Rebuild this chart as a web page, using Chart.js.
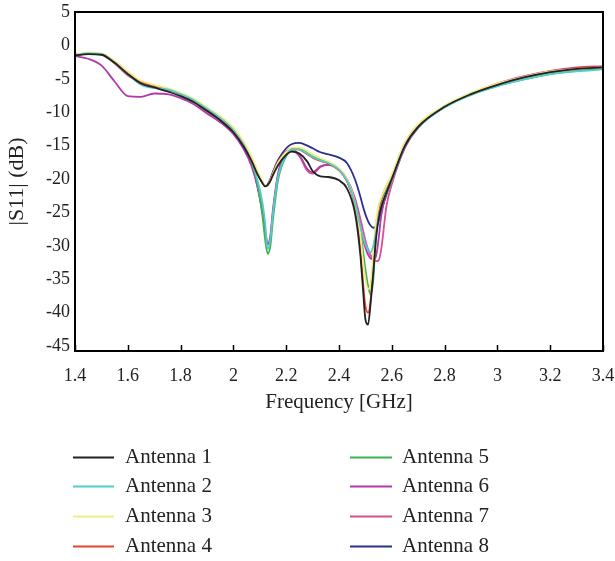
<!DOCTYPE html>
<html>
<head>
<meta charset="utf-8">
<script src="https://cdn.jsdelivr.net/npm/chart.js@4/dist/chart.umd.min.js"></script>
<style>
  html, body { margin: 0; padding: 0; background: #fff; }
  #wrap { width: 615px; height: 561px; position: relative; }
</style>
</head>
<body>
<div id="wrap"><canvas id="c" width="615" height="561"></canvas></div>
<script>
// Frequency grid (GHz) shared by all measured reflection curves
const FREQ = [1.40, 1.45, 1.50, 1.55, 1.60, 1.65, 1.70, 1.75, 1.80, 1.85, 1.90, 1.95, 2.00, 2.04, 2.07, 2.09,
  2.11, 2.12, 2.13, 2.14, 2.15, 2.17, 2.20, 2.22, 2.25, 2.28, 2.30, 2.33, 2.36, 2.40, 2.43, 2.46, 2.48, 2.49,
  2.50, 2.51, 2.52, 2.53, 2.54, 2.55, 2.56, 2.58, 2.60, 2.65, 2.70, 2.80, 2.90, 3.00, 3.10, 3.20, 3.30, 3.40];

// |S11| in dB for each antenna
const ANT1 = [-1.5, -1.3, -1.4, -2.6, -4.3, -5.7, -6.3, -6.9, -7.6, -8.5, -9.8, -11.2, -13.0, -15.2, -17.4, -19.2,
  -20.6, -21.1, -20.9, -20.3, -19.4, -17.9, -16.4, -15.9, -16.2, -17.4, -18.8, -19.6, -19.7, -20.2, -21.4, -25.0, -31.0, -36.0,
  -41.0, -41.8, -38.5, -34.0, -29.0, -26.0, -24.2, -22.0, -20.0, -15.0, -12.2, -9.2, -7.3, -5.9, -4.8, -4.0, -3.5, -3.3];
const ANT2 = [-1.5, -1.2, -1.3, -2.6, -4.3, -5.9, -6.4, -6.6, -7.3, -8.2, -9.5, -10.9, -12.7, -15.0, -17.5, -20.0,
  -23.5, -26.5, -30.5, -29.0, -25.0, -19.5, -16.5, -15.6, -15.6, -16.2, -16.7, -17.2, -17.6, -18.6, -20.2, -23.5, -27.0, -28.5,
  -29.8, -30.6, -31.0, -30.0, -28.0, -25.8, -24.0, -22.0, -20.2, -15.0, -12.3, -9.3, -7.4, -6.1, -5.1, -4.3, -3.9, -3.6];
const ANT3 = [-1.4, -1.1, -1.2, -2.3, -3.9, -5.3, -5.9, -6.4, -7.1, -8.0, -9.3, -10.6, -12.3, -14.5, -16.8, -18.6,
  -20.3, -20.9, -20.9, -20.2, -19.2, -17.5, -16.0, -15.3, -15.3, -15.8, -16.3, -16.9, -17.4, -18.4, -20.0, -23.5, -28.0, -32.0,
  -35.0, -36.5, -35.5, -31.0, -26.5, -24.0, -22.8, -21.0, -19.3, -14.5, -11.8, -9.0, -7.1, -5.7, -4.7, -3.9, -3.5, -3.3];
const ANT4 = [-1.5, -1.2, -1.3, -2.5, -4.1, -5.5, -6.1, -6.6, -7.3, -8.2, -9.5, -10.9, -12.6, -14.8, -17.0, -18.9,
  -20.5, -21.0, -20.8, -20.1, -19.1, -17.4, -15.9, -15.4, -15.6, -16.3, -16.8, -17.3, -17.7, -18.7, -20.3, -24.0, -30.0, -35.0,
  -39.0, -40.0, -38.0, -32.5, -27.0, -24.5, -23.0, -21.0, -19.5, -14.6, -11.9, -9.1, -7.2, -5.8, -4.7, -3.9, -3.4, -3.2];
const ANT5 = [-1.5, -1.2, -1.3, -2.5, -4.2, -5.7, -6.2, -6.6, -7.3, -8.2, -9.5, -10.9, -12.6, -14.9, -17.4, -20.5,
  -25.5, -29.0, -31.2, -30.0, -26.0, -20.0, -16.6, -15.5, -15.5, -16.1, -16.6, -17.1, -17.6, -18.6, -20.2, -23.5, -27.5, -30.5,
  -33.5, -36.0, -37.3, -35.0, -28.5, -25.0, -23.3, -21.3, -19.7, -14.8, -12.1, -9.2, -7.4, -6.1, -5.1, -4.3, -3.8, -3.5];
const ANT6 = [-1.6, -2.0, -3.0, -5.4, -7.6, -7.7, -7.2, -7.3, -7.9, -8.8, -10.2, -11.5, -13.3, -15.6, -18.2, -21.0,
  -25.0, -27.5, -29.8, -28.5, -24.5, -19.0, -16.0, -15.6, -16.4, -18.5, -19.0, -18.1, -17.9, -18.6, -20.3, -23.5, -27.0, -28.8,
  -30.3, -31.3, -31.9, -32.0, -31.6, -29.0, -25.5, -22.0, -20.2, -15.2, -12.3, -9.2, -7.3, -5.8, -4.7, -3.9, -3.4, -3.2];
const ANT7 = [-1.4, -1.2, -1.4, -2.7, -4.5, -5.4, -6.0, -6.5, -7.3, -8.4, -9.9, -11.3, -13.0, -15.3, -18.0, -20.8,
  -25.0, -27.8, -29.8, -28.8, -25.0, -19.3, -16.1, -15.7, -16.6, -18.8, -19.2, -18.2, -17.9, -18.5, -20.0, -22.8, -25.8, -27.5,
  -29.2, -30.5, -31.4, -32.0, -32.3, -32.2, -30.5, -24.0, -20.8, -15.3, -12.3, -9.2, -7.2, -5.7, -4.6, -3.8, -3.3, -3.1];
const ANT8 = [-1.5, -1.2, -1.3, -2.5, -4.2, -5.8, -6.3, -6.7, -7.3, -8.2, -9.5, -10.9, -12.7, -14.9, -17.2, -19.0,
  -20.6, -21.0, -20.8, -20.0, -18.9, -17.1, -15.4, -14.8, -14.6, -15.0, -15.4, -16.0, -16.3, -16.8, -17.6, -20.0, -22.5, -24.0,
  -25.3, -26.3, -27.0, -27.3, -27.2, -26.3, -24.8, -22.3, -20.3, -15.0, -12.2, -9.2, -7.3, -5.9, -4.8, -4.0, -3.5, -3.3];

const SERIES_NAMES = ['Antenna 1', 'Antenna 2', 'Antenna 3', 'Antenna 4',
                      'Antenna 5', 'Antenna 6', 'Antenna 7', 'Antenna 8'];
const SERIES_VALUES = [ANT1, ANT2, ANT3, ANT4, ANT5, ANT6, ANT7, ANT8];
const SERIES_COLORS = ['#222222', '#55cccc', '#f0ec86', '#e8452c',
                       '#3db350', '#b23aa8', '#d8508f', '#2b2f8e'];

const X_TICKS = [1.4, 1.6, 1.8, 2, 2.2, 2.4, 2.6, 2.8, 3, 3.2, 3.4];
const Y_TICKS = [5, 0, -5, -10, -15, -20, -25, -30, -35, -40, -45];

const SERIF = '"Liberation Serif", "DejaVu Serif", serif';

// Closed black frame with inward tick marks on the frequency axis
const framePlugin = {
  id: 'frame',
  afterDatasetsDraw(chart) {
    const { ctx, chartArea: a, scales } = chart;
    ctx.save();
    ctx.strokeStyle = '#000';
    ctx.lineWidth = 2;
    ctx.strokeRect(a.left, a.top, a.right - a.left, a.bottom - a.top);
    ctx.lineWidth = 1.5;
    ctx.beginPath();
    X_TICKS.forEach(v => {
      const px = Math.round(scales.x.getPixelForValue(v)) + 0.5;
      ctx.moveTo(px, a.bottom);
      ctx.lineTo(px, a.bottom - 6);
    });
    ctx.stroke();
    ctx.restore();
  }
};

// Two-column legend below the axis title
const legendPlugin = {
  id: 'twoColLegend',
  afterDraw(chart) {
    const { ctx } = chart;
    const rows = [457, 486, 516, 546];
    const cols = [{ x0: 73, x1: 114, tx: 125 }, { x0: 350, x1: 392, tx: 402 }];
    ctx.save();
    ctx.font = '21px ' + SERIF;
    ctx.textBaseline = 'middle';
    ctx.textAlign = 'left';
    chart.data.datasets.forEach((ds, i) => {
      const c = cols[Math.floor(i / 4)];
      const y = rows[i % 4];
      ctx.strokeStyle = ds.borderColor;
      ctx.lineWidth = 2;
      ctx.beginPath();
      ctx.moveTo(c.x0, y + 0.5);
      ctx.lineTo(c.x1, y + 0.5);
      ctx.stroke();
      ctx.fillStyle = '#222';
      ctx.fillText(ds.label, c.tx, y);
    });
    ctx.restore();
  }
};

const datasets = SERIES_NAMES.map((name, i) => ({
  label: name,
  data: FREQ.map((f, k) => ({ x: f, y: SERIES_VALUES[i][k] })),
  borderColor: SERIES_COLORS[i],
  backgroundColor: SERIES_COLORS[i],
  borderWidth: 1.8,
  pointRadius: 0,
  fill: false,
  cubicInterpolationMode: 'monotone'
}));

new Chart(document.getElementById('c'), {
  type: 'line',
  data: { datasets },
  plugins: [framePlugin, legendPlugin],
  options: {
    responsive: false,
    animation: false,
    devicePixelRatio: 1,
    layout: { padding: { left: 0, right: 12, top: 12, bottom: 146 } },
    plugins: { legend: { display: false }, tooltip: { enabled: false } },
    scales: {
      x: {
        type: 'linear',
        min: 1.4,
        max: 3.4,
        grid: { display: false, drawTicks: false },
        border: { display: false },
        afterBuildTicks(scale) { scale.ticks = X_TICKS.map(v => ({ value: v })); },
        afterFit(scale) {
          scale.height = 64;
          scale.paddingLeft = 0;
          scale.paddingRight = 0;
        },
        ticks: {
          padding: 14,
          color: '#222',
          font: { family: SERIF, size: 18 },
          maxRotation: 0,
          callback: v => String(v)
        },
        title: {
          display: true,
          text: 'Frequency [GHz]',
          color: '#222',
          font: { family: SERIF, size: 21 },
          padding: { top: 0, bottom: 0 }
        }
      },
      y: {
        type: 'linear',
        min: -45.75,
        max: 5,
        grid: { display: false, drawTicks: false },
        border: { display: false },
        afterBuildTicks(scale) { scale.ticks = Y_TICKS.map(v => ({ value: v })); },
        afterFit(scale) {
          scale.width = 75;
          scale.paddingTop = 0;
          scale.paddingBottom = 0;
        },
        ticks: {
          padding: 5,
          color: '#222',
          font: { family: SERIF, size: 18 },
          callback: v => String(v)
        },
        title: {
          display: true,
          text: '|S11| (dB)',
          color: '#222',
          font: { family: SERIF, size: 22 },
          padding: { top: 4, bottom: 0 }
        }
      }
    }
  }
});
</script>
</body>
</html>
